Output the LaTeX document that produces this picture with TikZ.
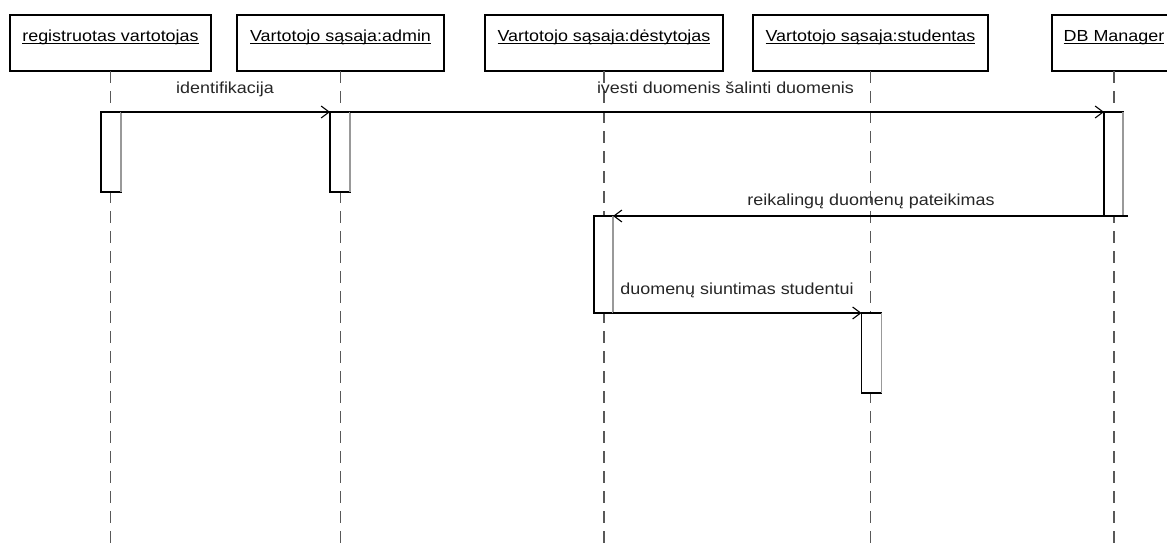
\documentclass[tikz,border=0pt]{standalone}
\usepackage{fontspec}
\setmainfont{Liberation Sans}[FakeStretch=1.12]
\usetikzlibrary{arrows.meta}
% underlined object name, rule set just under the baseline
\newcommand\objname[1]{\underline{\smash{#1}}}
\begin{document}
\begin{tikzpicture}[x=1pt,y=-1pt,
  every node/.style={font=\fontsize{16pt}{19pt}\selectfont, inner sep=0pt, outer sep=0pt},
  objbox/.style={draw=black, line width=1.1pt, fill=white, minimum height=56pt},
  lifeline/.style={draw=black!65, line width=1.5pt, dash pattern=on 12pt off 8pt},
  actbox/.style={draw=black, line width=1.1pt, fill=white},
  actedge/.style={draw=black!40, line width=1.8pt},
  msg/.style={draw=black, line width=1.1pt, -{Straight Barb[length=8pt,width=12pt,line width=1.1pt]}},
  msglabel/.style={anchor=base, text=black!85}
]
\useasboundingbox (0,0) rectangle (1167,551);
\clip (0,0) rectangle (1167,551);
\coordinate (floor) at (0,551);

% objects
\node[objbox, minimum width=201pt] (reg) at (110.5,43) {\objname{registruotas vartotojas}};
\node[objbox, minimum width=207pt] (adm) at (340.5,43) {\objname{Vartotojo sąsaja:admin}};
\node[objbox, minimum width=238pt] (dst) at (604,43) {\objname{Vartotojo sąsaja:dėstytojas}};
\node[objbox, minimum width=235pt] (stu) at (870.5,43) {\objname{Vartotojo sąsaja:studentas}};
\node[objbox, minimum width=124pt] (dbm) at (1114,43) {\objname{DB Manager}};

% lifelines
\foreach \n in {reg,adm,dst,stu,dbm}
  \draw[lifeline] (\n.south) -- (\n.south |- floor);

% activation bars
\node[actbox, minimum width=20pt, minimum height=80pt] (a1) at (111,152) {};
\node[actbox, minimum width=20pt, minimum height=80pt] (a2) at (340,152) {};
\node[actbox, minimum width=19pt, minimum height=104pt] (a5) at (1113.5,164) {};
\node[actbox, minimum width=19pt, minimum height=97pt] (a3) at (603.5,264.5) {};
\node[actbox, minimum width=20pt, minimum height=80pt] (a4) at (871.5,353) {};
\foreach \a in {a1,a2,a5,a3,a4}
  \draw[actedge] (\a.north east) -- (\a.south east);

% messages
\coordinate (m2from) at (1128,216);
\draw[msg] (a1.north east) -- (a2.north west);
\draw[msg] (a2.north east) -- (a5.north west);
\draw[msg] (m2from) -- (a3.north east);
\draw[msg] (a3.south east) -- (a4.north west);

% message labels
\node[msglabel] (l1) at (225,93) {identifikacija};
\node[msglabel] (l2) at (725.5,93) {ivesti duomenis šalinti duomenis};
\node[msglabel] (l3) at (871,205) {reikalingų duomenų pateikimas};
\node[msglabel] (l4) at (737,294) {duomenų siuntimas studentui};
\end{tikzpicture}
\end{document}
